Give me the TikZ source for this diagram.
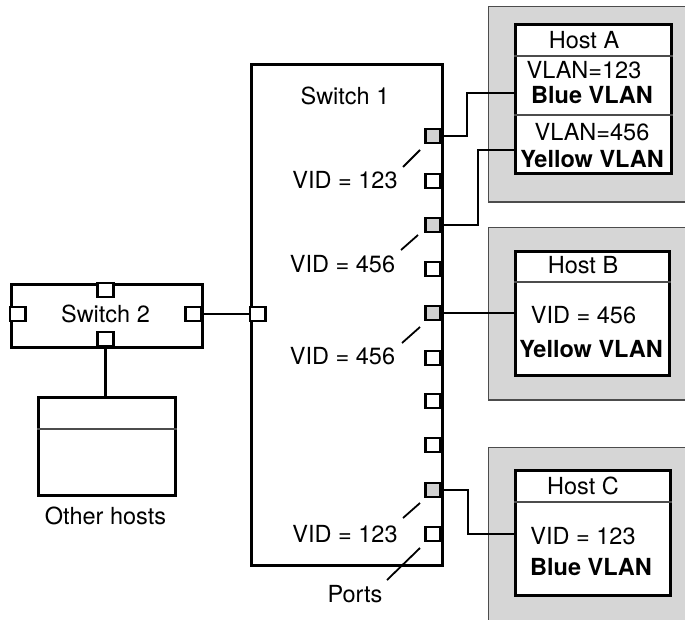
\documentclass[tikz,border=0pt]{standalone}
\usepackage{fontspec}
\setmainfont{TeX Gyre Heros}
\definecolor{panelgray}{gray}{0.84}
\definecolor{portgray}{gray}{0.82}
\definecolor{edgegray}{gray}{0.3}
\begin{document}
\begin{tikzpicture}[x=1pt,y=-1pt,line join=miter,
  boxline/.style={draw=black,line width=3pt},
  wire/.style={draw=black,line width=2.5pt},
  leader/.style={draw=black,line width=1.8pt},
  divider/.style={draw=edgegray,line width=1.1pt},
  panel/.style={draw=edgegray,line width=1.4pt,fill=panelgray},
  portbox/.style={draw=black,line width=2.7pt,minimum width=15.5,minimum height=14,inner sep=0,fill=white},
  gport/.style={portbox,fill=portgray},
  lbl/.style={inner sep=0,anchor=base,font=\fontsize{23.5}{28}\selectfont},
  blbl/.style={lbl,font=\fontsize{23.5}{28}\selectfont\bfseries}]
\useasboundingbox (0,0) rectangle (685,619);

% host panels
\path[panel] (488.5,6.5) rectangle (700,202);
\path[panel] (488.5,227.5) rectangle (700,400);
\path[panel] (488.5,447.5) rectangle (700,640);

% Switch 1
\node[boxline,fill=white,minimum width=191,minimum height=501,inner sep=0,anchor=north west] (sw1) at (250,63) {};
\node[lbl] (sw1t) at (345,104) {Switch 1};
\foreach \i/\y/\s in {1/136/gport,2/181/portbox,3/225/gport,4/269/portbox,5/313/gport,6/358/portbox,7/401/portbox,8/445/portbox,9/490/gport,10/534/portbox}
  \node[\s] (p\i) at (433,\y) {};
\node[portbox] (pl) at (257.8,314) {};

% Switch 2
\node[boxline,fill=white,minimum width=191,minimum height=63,inner sep=0,anchor=north west] (sw2) at (10,283) {};
\node[lbl] (sw2t) at (105.5,322) {Switch 2};
\node[portbox] (s2l) at (17.8,314) {};
\node[portbox] (s2r) at (193.2,314) {};
\node[portbox] (s2t) at (105.5,290) {};
\node[portbox] (s2b) at (105.5,339) {};

% Other hosts
\node[boxline,fill=white,minimum width=137,minimum height=98,inner sep=0,anchor=north west] (oh) at (37,396) {};
\draw[divider] (oh.west |- 0,429) -- (oh.east |- 0,429);
\node[lbl] (oht) at (105.5,524) {Other hosts};

% Host A
\node[boxline,fill=white,minimum width=156,minimum height=149,inner sep=0,anchor=north west] (hA) at (514,23) {};
\draw[divider] (hA.west |- 0,56) -- (hA.east |- 0,56);
\draw[divider] (hA.west |- 0,115) -- (hA.east |- 0,115);
\node[lbl] (hAt) at (584,48) {Host A};
\node[lbl] (hA1) at (584,78) {VLAN=123};
\node[blbl] (hA2) at (592,103) {Blue VLAN};
\node[lbl] (hA3) at (592,140) {VLAN=456};
\node[blbl] (hA4) at (592,167) {Yellow VLAN};
\coordinate (hAin1) at (hA.west |- 0,93);
\coordinate (hAin2) at (hA.west |- 0,150);

% Host B
\node[boxline,fill=white,minimum width=154,minimum height=124,inner sep=0,anchor=north west] (hB) at (514,250) {};
\draw[divider] (hB.west |- 0,282) -- (hB.east |- 0,282);
\node[lbl] (hBt) at (583,273) {Host B};
\node[lbl] (hB1) at (583.5,323) {VID = 456};
\node[blbl] (hB2) at (591,357) {Yellow VLAN};
\coordinate (hBin) at (hB.west |- 0,313);

% Host C
\node[boxline,fill=white,minimum width=155,minimum height=125,inner sep=0,anchor=north west] (hC) at (514,469) {};
\draw[divider] (hC.west |- 0,502) -- (hC.east |- 0,502);
\node[lbl] (hCt) at (583,494) {Host C};
\node[lbl] (hC1) at (583,544) {VID = 123};
\node[blbl] (hC2) at (591,575) {Blue VLAN};
\coordinate (hCin) at (hC.west |- 0,534);

% VID labels and leaders
\node[lbl] (v1) at (345,188) {VID = 123};
\node[lbl] (v2) at (342.5,272) {VID = 456};
\node[lbl] (v3) at (342.5,364) {VID = 456};
\node[lbl] (v4) at (345,542) {VID = 123};
\node[lbl] (vp) at (355,602) {Ports};
\draw[leader] (403,167) -- (420,150);
\draw[leader] (401,250) -- (418,235);
\draw[leader] (402,343) -- (420,327);
\draw[leader] (403,518) -- (420,503);
\draw[leader] (387,580) -- (420,548);

% wires
\draw[wire] (p1.east) -- ++(25,0) |- (hAin1);
\draw[wire] (p3.east) -- ++(36,0) |- (hAin2);
\draw[wire] (p5.east) -- (hBin);
\draw[wire] (p9.east) -- ++(26,0) |- (hCin);
\draw[wire] (sw2.east |- s2r) -- (sw1.west |- pl);
\draw[wire] (sw2.south -| s2b) -- (oh.north -| s2b);
\end{tikzpicture}
\end{document}
